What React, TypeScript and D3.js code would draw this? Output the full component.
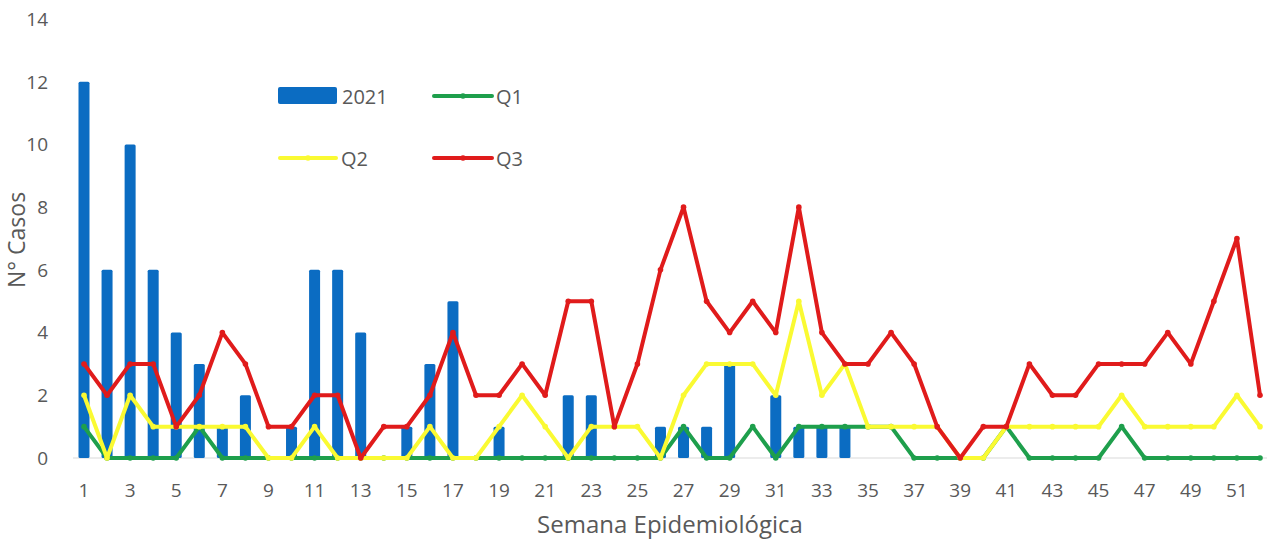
import React from "react";
import * as d3 from "d3";

const weeks: number[] = d3.range(1, 53);
const xTickLabels: number[] = d3.range(1, 52, 2);
const yTickLabels: number[] = [0, 2, 4, 6, 8, 10, 12, 14];

const cases2021: number[] = [
  12, 6, 10, 6, 4, 3, 1, 2, 0, 1, 6, 6, 4, 0, 1, 3, 5, 0, 1, 0,
  0, 2, 2, 0, 0, 1, 1, 1, 3, 0, 2, 1, 1, 1, 0, 0, 0, 0, 0, 0,
  0, 0, 0, 0, 0, 0, 0, 0, 0, 0, 0, 0,
];
const q1: number[] = [
  1, 0, 0, 0, 0, 1, 0, 0, 0, 0, 0, 0, 0, 0, 0, 0, 0, 0, 0, 0,
  0, 0, 0, 0, 0, 0, 1, 0, 0, 1, 0, 1, 1, 1, 1, 1, 0, 0, 0, 0,
  1, 0, 0, 0, 0, 1, 0, 0, 0, 0, 0, 0,
];
const q2: number[] = [
  2, 0, 2, 1, 1, 1, 1, 1, 0, 0, 1, 0, 0, 0, 0, 1, 0, 0, 1, 2,
  1, 0, 1, 1, 1, 0, 2, 3, 3, 3, 2, 5, 2, 3, 1, 1, 1, 1, 0, 0,
  1, 1, 1, 1, 1, 2, 1, 1, 1, 1, 2, 1,
];
const q3: number[] = [
  3, 2, 3, 3, 1, 2, 4, 3, 1, 1, 2, 2, 0, 1, 1, 2, 4, 2, 2, 3,
  2, 5, 5, 1, 3, 6, 8, 5, 4, 5, 4, 8, 4, 3, 3, 4, 3, 1, 0, 1,
  1, 3, 2, 2, 3, 3, 3, 4, 3, 5, 7, 2,
];

const BLUE = "#0B6CC2";
const GREEN = "#1E9F4C";
const YELLOW = "#FAFA32";
const RED = "#E01B1B";
const TEXT = "#595959";
const FONT = "'Open Sans', sans-serif";

export default function App() {
  const x = d3.scalePoint<number>().domain(weeks).range([84, 1260]);
  const y = d3.scaleLinear().domain([0, 14]).range([458, 19]);
  const line = d3
    .line<number>()
    .x((_, i) => x(weeks[i]) as number)
    .y((d) => y(d));

  const series = [
    { name: "Q1", data: q1, color: GREEN },
    { name: "Q2", data: q2, color: YELLOW },
    { name: "Q3", data: q3, color: RED },
  ];
  const barW = 11;

  return (
    <svg
      width={1274}
      height={540}
      style={{ position: "absolute", left: 0, top: 0, background: "#fff" }}
      fontFamily={FONT}
    >
      <rect x={0} y={0} width={1274} height={540} fill="#fff" />
      {/* y ticks */}
      {yTickLabels.map((t) => (
        <text key={t} x={48} y={y(t)} dy="0.36em" textAnchor="end" fontSize={19} fill={TEXT}>
          {t}
        </text>
      ))}
      {/* x ticks */}
      {xTickLabels.map((t) => (
        <text key={t} x={x(t)} y={497} textAnchor="middle" fontSize={19} fill={TEXT}>
          {t}
        </text>
      ))}
      {/* baseline */}
      <line x1={73} x2={1267} y1={y(0)} y2={y(0)} stroke="#D9D9D9" strokeWidth={1} />
      {/* bars */}
      {cases2021.map((v, i) =>
        v > 0 ? (
          <rect
            key={i}
            x={(x(weeks[i]) as number) - barW / 2}
            y={y(v)}
            width={barW}
            height={y(0) - y(v)}
            rx={1.5}
            fill={BLUE}
          />
        ) : null
      )}
      {/* lines */}
      {series.map((s) => (
        <g key={s.name}>
          <path
            d={line(s.data) as string}
            fill="none"
            stroke={s.color}
            strokeWidth={4}
            strokeLinejoin="round"
            strokeLinecap="round"
          />
          {s.data.map((v, i) => (
            <circle key={i} cx={x(weeks[i]) as number} cy={y(v)} r={2.8} fill={s.color} />
          ))}
        </g>
      ))}
      {/* legend */}
      <g fontSize={20} fill={TEXT}>
        <rect x={278} y={87} width={59} height={17} rx={2} fill={BLUE} />
        <text x={342} y={104}>2021</text>
        <line x1={434} x2={492} y1={96} y2={96} stroke={GREEN} strokeWidth={4} strokeLinecap="round" />
        <circle cx={463} cy={96} r={2.8} fill={GREEN} />
        <text x={496} y={104}>Q1</text>
        <line x1={280} x2={336} y1={158} y2={158} stroke={YELLOW} strokeWidth={4} strokeLinecap="round" />
        <circle cx={308} cy={158} r={2.8} fill={YELLOW} />
        <text x={341} y={166}>Q2</text>
        <line x1={434} x2={492} y1={158} y2={158} stroke={RED} strokeWidth={4} strokeLinecap="round" />
        <circle cx={463} cy={158} r={2.8} fill={RED} />
        <text x={496} y={166}>Q3</text>
      </g>
      {/* axis titles */}
      <text x={670} y={533} textAnchor="middle" fontSize={24} fill={TEXT}>
        Semana Epidemiológica
      </text>
      <text
        transform="translate(25,240) rotate(-90)"
        textAnchor="middle"
        fontSize={23}
        fill={TEXT}
      >
        N° Casos
      </text>
    </svg>
  );
}
